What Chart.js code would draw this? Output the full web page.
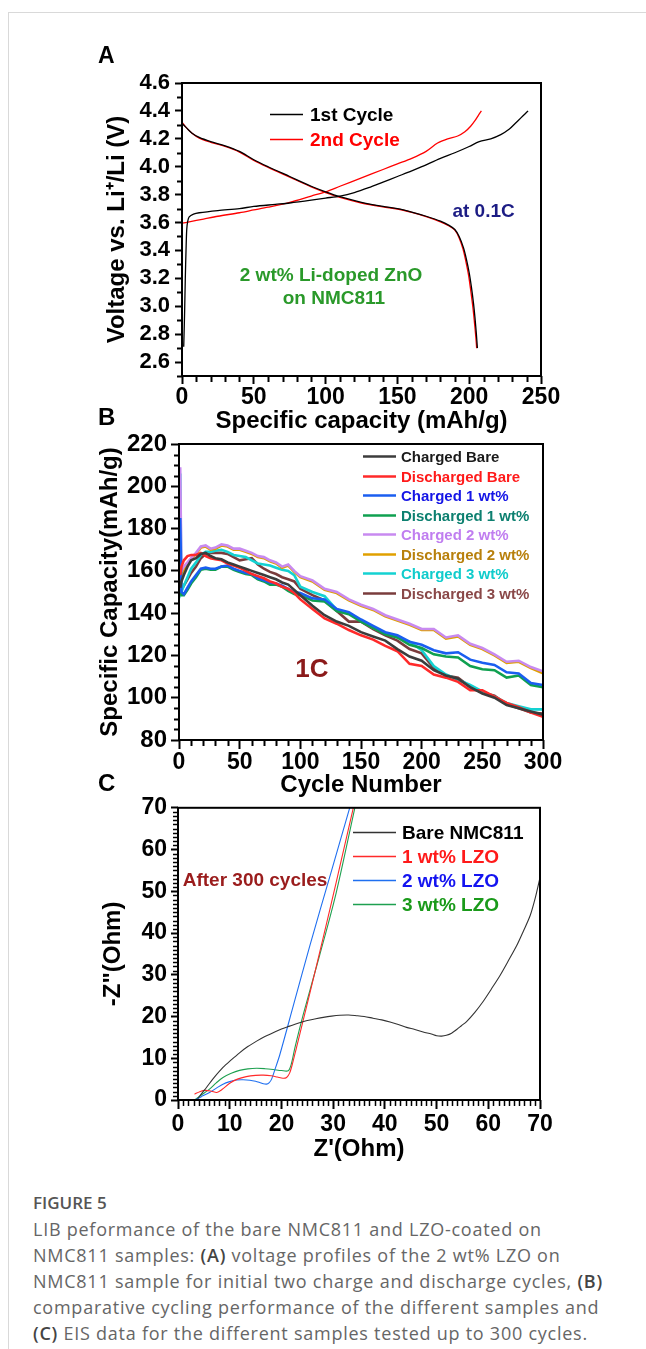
<!DOCTYPE html>
<html><head><meta charset="utf-8">
<script src="https://cdn.jsdelivr.net/npm/chart.js@4.4.1/dist/chart.umd.min.js"></script>
<style>
html,body{margin:0;padding:0;background:#fff;}
body{width:646px;height:1349px;position:relative;overflow:hidden;}
.frameTop{position:absolute;left:8px;top:12px;right:0;height:1px;background:#d9d9d9;}
.frameLeft{position:absolute;left:8px;top:12px;width:1px;bottom:0;background:#d9d9d9;}
canvas{position:absolute;left:0;}
.plet{position:absolute;left:98px;font:bold 23px "Liberation Sans",Arial,sans-serif;line-height:23px;color:#000;}
.cap{position:absolute;left:33px;top:1189px;width:612px;font-family:"Open Sans",sans-serif;font-size:18px;line-height:26px;color:#666;white-space:nowrap;letter-spacing:0.75px;}
.cap b{font-weight:600;color:#444;}
.cap .fig{font-weight:600;color:#555;font-size:17px;letter-spacing:0;}
</style></head>
<body>
<div class="frameTop"></div><div class="frameLeft"></div>
<canvas id="cA" width="646" height="400" style="top:40px"></canvas>
<canvas id="cB" width="646" height="400" style="top:420px"></canvas>
<canvas id="cC" width="646" height="380" style="top:790px"></canvas>
<div class="plet" style="top:44px">A</div>
<div class="plet" style="top:405px;font-size:24px">B</div>
<div class="plet" style="top:771px;font-size:24px">C</div>
<div class="cap"><span class="fig">FIGURE 5</span><br>LIB peformance of the bare NMC811 and LZO-coated on<br>NMC811 samples: <b>(A)</b> voltage profiles of the 2 wt% LZO on<br>NMC811 sample for initial two charge and discharge cycles, <b>(B)</b><br>comparative cycling performance of the different samples and<br><b>(C)</b> EIS data for the different samples tested up to 300 cycles.</div>
<script>
// ---------- Panel A data ----------
const aXTicks = [0, 50, 100, 150, 200, 250];
const aYTicks = [2.6, 2.8, 3.0, 3.2, 3.4, 3.6, 3.8, 4.0, 4.2, 4.4, 4.6];
const aCharge1X = [1.2, 1.8, 2.3, 2.8, 3.3, 4.0, 5, 8, 12, 25, 40, 50, 65, 75, 90, 100, 110, 120, 130, 140, 150, 160, 167, 180, 190, 200, 207, 215, 222, 228, 232, 236, 239, 241];
const aCharge1Y = [2.71, 2.95, 3.2, 3.4, 3.55, 3.61, 3.64, 3.66, 3.67, 3.686, 3.70, 3.715, 3.73, 3.74, 3.76, 3.775, 3.79, 3.815, 3.85, 3.89, 3.93, 3.97, 4.0, 4.06, 4.10, 4.145, 4.18, 4.20, 4.23, 4.27, 4.31, 4.35, 4.38, 4.40];
const aDis1X = [0, 3, 7, 12, 20, 30, 40, 50, 60, 75, 90, 100, 110, 125, 140, 150, 160, 170, 180, 186, 190, 193, 196, 198, 200, 201.5, 203, 204, 205, 205.7];
const aDis1Y = [4.31, 4.28, 4.24, 4.21, 4.18, 4.15, 4.11, 4.05, 4.00, 3.93, 3.86, 3.82, 3.785, 3.745, 3.715, 3.70, 3.675, 3.645, 3.61, 3.58, 3.55, 3.50, 3.42, 3.34, 3.24, 3.14, 3.02, 2.92, 2.80, 2.70];
const aCharge2X = [0, 5, 15, 25, 40, 50, 60, 75, 90, 100, 110, 125, 140, 150, 160, 170, 178, 185, 192, 197, 201, 204, 206.5, 208.5];
const aCharge2Y = [3.595, 3.605, 3.625, 3.645, 3.67, 3.69, 3.71, 3.745, 3.79, 3.82, 3.86, 3.92, 3.98, 4.02, 4.06, 4.11, 4.17, 4.20, 4.22, 4.25, 4.29, 4.33, 4.37, 4.40];
const aDis2X = [0, 3, 7, 12, 20, 30, 40, 50, 60, 75, 90, 100, 110, 125, 140, 150, 160, 170, 180, 186, 190, 193, 195.7, 197.7, 199.6, 201.1, 202.6, 203.6, 204.6, 205.2];
const aDis2Y = [4.32, 4.28, 4.24, 4.205, 4.175, 4.145, 4.105, 4.045, 3.995, 3.925, 3.855, 3.815, 3.78, 3.74, 3.712, 3.697, 3.672, 3.642, 3.605, 3.575, 3.545, 3.49, 3.41, 3.32, 3.22, 3.11, 2.99, 2.89, 2.78, 2.70];

// ---------- Panel B data ----------
const bXTicks = [0, 50, 100, 150, 200, 250, 300];
const bYTicks = [80, 100, 120, 140, 160, 180, 200, 220];
const bCycles = [1, 2, 4, 7, 10, 14, 18, 22, 26, 30, 35, 40, 45, 50, 55, 60, 65, 70, 75, 80, 85, 90, 95, 100, 110, 120, 130, 140, 150, 160, 170, 180, 190, 200, 210, 220, 230, 240, 250, 260, 270, 280, 290, 300];
const bChargedBare = [152, 155, 158, 162, 165, 166, 168, 168.5, 167, 166, 165.5, 164, 163, 162, 161, 160, 159, 158, 157, 156, 154.5, 153.5, 151, 148.5, 143.5, 139, 136, 134, 131, 129, 127, 123, 119.5, 117.5, 113, 110.5, 109, 105, 102, 100, 96.5, 95, 93.5, 92];
const bDischargedBare = [158, 162, 165, 167, 167.5, 167.5, 168.5, 167, 166, 165.5, 165, 163.5, 162.5, 161.5, 160, 158.5, 157.5, 156.5, 155, 154, 152.5, 151.5, 149.5, 146.5, 142, 137.5, 135, 132, 129.5, 127.5, 124.5, 122, 116, 115, 111, 109.5, 107.5, 103.5, 103.5, 100.5, 97.5, 95.5, 93, 91];
const bCharged1 = [185, 150, 149, 152, 155, 158, 161, 161.5, 161, 161, 162, 162.5, 161, 160, 159, 158.5, 156.5, 155.5, 154.5, 154, 153, 151.5, 150, 149.5, 147, 146.5, 142, 140.5, 137, 134, 131, 129.5, 126.5, 125, 122.5, 121, 121.5, 118, 116.5, 115.5, 112, 111.5, 107, 106];
const bDischarged1 = [150, 148.5, 148.5, 151, 154, 157, 160.5, 161, 160.5, 160.5, 162, 162, 160.5, 159.5, 158.5, 158, 156, 155, 153.5, 153.5, 152.5, 150.5, 149, 148.5, 146, 145.5, 141, 139.5, 136, 133, 130, 128.5, 125, 123.5, 120.5, 119.5, 119, 115, 113.5, 113, 109.5, 110.5, 106, 105];
const bCharged2 = [209, 160, 162, 164, 166, 168.5, 171.5, 172, 170.5, 171, 172.5, 172, 170.5, 170.5, 169.5, 168.5, 167, 166.5, 165, 164, 162, 163, 160, 157.5, 155.5, 151.5, 150, 146.5, 144, 142, 139, 137, 135, 132.5, 132.5, 128.5, 129.5, 125.5, 123.5, 120.5, 117, 117.5, 114.5, 112.5];
const bDischarged2 = [155, 157, 160, 163, 165.5, 168, 171, 171.5, 170, 170.5, 172, 171.5, 170, 170, 169, 168, 166.5, 166, 164.5, 163.5, 161.5, 162.5, 159.5, 157, 155, 151, 149.5, 146, 143.5, 141.5, 138.5, 136.5, 134.5, 132, 132, 128, 129, 125, 123, 120, 116.5, 117, 114, 111.5];
const bCharged3 = [206, 150, 153, 157, 161, 164, 167.5, 169, 169, 169.5, 170, 169, 167.5, 167, 166.5, 165, 163.5, 163, 162.5, 161.5, 160.5, 160, 158, 152.5, 150, 148, 141.5, 140, 136.5, 133, 130.5, 128.5, 126.5, 122.5, 115, 111, 108.5, 106, 103, 100.5, 97.5, 96, 94.5, 94.5];
const bDischarged3 = [150, 151, 153, 156, 159, 162, 166, 168, 168.5, 168.5, 168.5, 168, 166.5, 165, 165.5, 166, 163, 161, 159.5, 158.5, 157, 156, 155, 151.5, 148.5, 146, 141, 136, 136, 132.5, 129.5, 127, 123, 121, 114, 110.5, 109.5, 105, 102.5, 101, 97, 95, 93, 92.5];

// ---------- Panel C data ----------
const cXTicks = [0, 10, 20, 30, 40, 50, 60, 70];
const cYTicks = [0, 10, 20, 30, 40, 50, 60, 70];
const cBareX = [3.8, 4.6, 5.5, 7, 8.7, 10.3, 11.9, 13.5, 15.2, 16.8, 18.4, 20, 21.6, 23.2, 24.8, 26.4, 28.1, 29.7, 31.3, 33, 34.5, 36, 37.7, 39.4, 41, 42.6, 44.2, 45.8, 47.4, 49, 50, 51, 51.9, 52.9, 53.9, 54.8, 55.8, 57.4, 59, 60.6, 62.3, 63.9, 65.5, 66.8, 68.1, 69.1, 70];
const cBareY = [0.3, 1.6, 3.0, 5.4, 7.8, 9.6, 11.3, 12.8, 14.1, 15.2, 16.1, 17.0, 17.7, 18.4, 19.0, 19.4, 19.8, 20.1, 20.3, 20.35, 20.2, 20.0, 19.6, 19.2, 18.7, 18.1, 17.4, 16.9, 16.3, 15.8, 15.4, 15.3, 15.5, 16.0, 16.9, 17.8, 18.8, 21.0, 23.6, 26.6, 29.9, 33.4, 37.0, 40.5, 44.2, 48.5, 53.3];
const c1wtX = [3.2, 4.2, 5.3, 6.5, 7.5, 8.5, 10, 11.5, 13.2, 15, 16.5, 18, 19.2, 20.3, 21.0, 21.6, 22.2, 22.9, 25.5, 28.1, 30.6, 33.9];
const c1wtY = [1.4, 2.0, 2.3, 2.1, 1.8, 2.5, 4.0, 5.0, 5.6, 5.9, 5.95, 5.8, 5.5, 5.2, 5.4, 6.5, 9.0, 12.5, 25.6, 39.0, 52.2, 70];
const c2wtX = [3.5, 4.5, 6.1, 7.5, 8.7, 10, 11.3, 12.6, 13.9, 15, 15.8, 16.5, 17.1, 17.6, 18.1, 18.8, 19.7, 22.3, 25.5, 29.4, 33.2];
const c2wtY = [0.2, 0.8, 1.8, 2.9, 3.8, 4.4, 4.8, 4.85, 4.75, 4.5, 4.2, 3.9, 3.8, 4.1, 5.0, 7.5, 10.9, 22.6, 37.0, 53.7, 70];
const c3wtX = [3.4, 4.5, 6.1, 7.4, 8.7, 10.3, 11.9, 13.5, 15.2, 16.8, 18.4, 20, 21.3, 21.9, 22.6, 24.2, 27.4, 30.6, 34.2];
const c3wtY = [0.2, 1.2, 2.6, 4.1, 5.4, 6.4, 7.1, 7.45, 7.6, 7.5, 7.3, 7.05, 7.0, 8.6, 12.5, 20.4, 34.7, 49.7, 70];

// ---------- helpers ----------
const FAM = "'Liberation Sans', Arial, sans-serif";
const pts = (xs, ys) => xs.map((x, i) => ({x: x, y: ys[i]}));
const near = (a, b) => Math.abs(a - b) < 1e-6;

const framePlugin = {
  id: 'frame',
  afterDraw(chart, args, o) {
    const ctx = chart.ctx, ca = chart.chartArea;
    ctx.save();
    ctx.strokeStyle = '#000';
    ctx.lineWidth = o.minorWidth;
    const xs = chart.scales.x, ys = chart.scales.y;
    const nx = Math.round((xs.max - xs.min) / o.xMinor);
    for (let i = 0; i <= nx; i++) {
      const v = xs.min + i * o.xMinor;
      if (o.xMajor.some(m => near(m, v))) continue;
      const p = Math.round(xs.getPixelForValue(v)) + 0.5;
      ctx.beginPath(); ctx.moveTo(p, ca.bottom); ctx.lineTo(p, ca.bottom + o.xMinorLen); ctx.stroke();
    }
    const ny = Math.round((ys.max - ys.min) / o.yMinor);
    for (let i = 0; i <= ny; i++) {
      const v = ys.min + i * o.yMinor;
      if (o.yMajor.some(m => near(m, v))) continue;
      const p = Math.round(ys.getPixelForValue(v)) + 0.5;
      ctx.beginPath(); ctx.moveTo(ca.left, p); ctx.lineTo(ca.left - o.yMinorLen, p); ctx.stroke();
    }
    ctx.lineWidth = o.width;
    ctx.strokeRect(ca.left, ca.top, ca.right - ca.left, ca.bottom - ca.top);
    ctx.restore();
  }
};

const legendPlugin = {
  id: 'inLegend',
  afterDraw(chart, args, o) {
    const ctx = chart.ctx, ca = chart.chartArea;
    ctx.save();
    ctx.font = o.font;
    ctx.textBaseline = 'middle';
    ctx.textAlign = 'left';
    o.items.forEach((it, i) => {
      const ds = chart.data.datasets[it.ds];
      const y = Math.round(ca.top + o.y + i * o.row) + 0.5;
      const x0 = ca.left + o.x;
      ctx.strokeStyle = ds.borderColor;
      ctx.lineWidth = o.lw;
      ctx.beginPath(); ctx.moveTo(x0, y); ctx.lineTo(x0 + o.len, y); ctx.stroke();
      ctx.fillStyle = it.color;
      ctx.fillText(ds.label, x0 + o.len + o.gap, y + 1);
    });
    ctx.restore();
  }
};

const notePlugin = {
  id: 'notes',
  afterDraw(chart, args, o) {
    const ctx = chart.ctx;
    ctx.save();
    ctx.textAlign = 'center';
    ctx.textBaseline = 'middle';
    o.items.forEach(n => {
      ctx.font = n.font;
      ctx.fillStyle = n.color;
      ctx.fillText(n.text, chart.scales.x.getPixelForValue(n.x), chart.scales.y.getPixelForValue(n.y));
    });
    ctx.restore();
  }
};

function axis(cfg) {
  return {
    type: 'linear',
    min: cfg.min, max: cfg.max,
    afterBuildTicks: s => { s.ticks = cfg.ticks.map(v => ({value: v})); },
    afterFit: s => { if (cfg.w) s.width = cfg.w; if (cfg.h) s.height = cfg.h; },
    border: {display: false},
    grid: {display: true, drawOnChartArea: false, drawTicks: true, tickLength: cfg.tl, tickColor: '#000', tickWidth: 2},
    ticks: {
      autoSkip: false, maxRotation: 0, padding: cfg.tp, color: '#000',
      font: {family: FAM, size: cfg.fs, weight: 'bold'},
      callback: v => cfg.fmt ? cfg.fmt(v) : String(v)
    },
    title: {display: true, text: cfg.title, color: '#000', padding: cfg.titlePad,
      font: {family: FAM, size: cfg.tfs, weight: 'bold'}}
  };
}

function mkChart(id, datasets, opts) {
  return new Chart(document.getElementById(id), {
    type: 'line',
    data: {datasets: datasets},
    plugins: [framePlugin, legendPlugin, notePlugin],
    options: {
      responsive: false, animation: false, devicePixelRatio: 1,
      layout: {padding: opts.pad},
      elements: {point: {radius: 0}, line: {tension: opts.tension}},
      scales: {x: axis(opts.x), y: axis(opts.y)},
      plugins: {
        legend: {display: false}, tooltip: {enabled: false},
        frame: opts.frame, inLegend: opts.legend, notes: opts.notes
      }
    }
  });
}

// ---------- Chart A ----------
mkChart('cA', [
  {label: '1st Cycle', data: pts(aCharge1X, aCharge1Y), borderColor: '#000', borderWidth: 1.3},
  {label: '1st Cycle discharge', data: pts(aDis1X, aDis1Y), borderColor: '#000', borderWidth: 1.3},
  {label: '2nd Cycle', data: pts(aCharge2X, aCharge2Y), borderColor: '#ff0000', borderWidth: 1.3},
  {label: '2nd Cycle discharge', data: pts(aDis2X, aDis2Y), borderColor: '#ff0000', borderWidth: 1.3}
], {
  pad: {left: 100, right: 105, top: 43, bottom: 4},
  tension: 0.3,
  x: {min: 0, max: 250, ticks: aXTicks, h: 60, tl: 8, tp: 0, fs: 23, title: 'Specific capacity (mAh/g)', tfs: 24, titlePad: {top: 0, bottom: 0}},
  y: {min: 2.5, max: 4.6, ticks: aYTicks, w: 82, tl: 7, tp: 5, fs: 22, title: 'Voltage vs. Li\u207A/Li (V)', tfs: 24, titlePad: {top: 3, bottom: 0}, fmt: v => v.toFixed(1)},
  frame: {width: 2, minorWidth: 2, xMinor: 10, xMajor: aXTicks, xMinorLen: 6, yMinor: 0.1, yMajor: aYTicks, yMinorLen: 5},
  legend: {x: 88, y: 31, row: 25, len: 33, gap: 7, lw: 1.3, font: 'bold 19px ' + FAM,
    items: [{ds: 0, color: '#000'}, {ds: 2, color: '#ff0000'}]},
  notes: {items: [
    {text: 'at 0.1C', x: 210, y: 3.675, color: '#1c1c84', font: 'bold 19px ' + FAM},
    {text: '2 wt% Li-doped ZnO', x: 103.8, y: 3.216, color: '#2a992a', font: 'bold 19px ' + FAM},
    {text: 'on NMC811', x: 105.8, y: 3.05, color: '#2a992a', font: 'bold 19px ' + FAM}
  ]}
});

// ---------- Chart B ----------
const bColors = ['#3c3c3c', '#ff2a2a', '#1a5ef0', '#0fa050', '#c88af0', '#e0a000', '#14d2d2', '#7a3c3c'];
const bTextColors = ['#1a1a1a', '#ff1a1a', '#1414e6', '#0d8070', '#c07ef0', '#b8800c', '#10cccc', '#8a4848'];
const bSeries = [bChargedBare, bDischargedBare, bCharged1, bDischarged1, bCharged2, bDischarged2, bCharged3, bDischarged3];
const bLabels = ['Charged Bare', 'Discharged Bare', 'Charged 1 wt%', 'Discharged 1 wt%', 'Charged 2 wt%', 'Discharged 2 wt%', 'Charged 3 wt%', 'Discharged 3 wt%'];
mkChart('cB', bSeries.map((s, i) => ({label: bLabels[i], data: pts(bCycles, s), borderColor: bColors[i], borderWidth: 2.6})), {
  pad: {left: 95, right: 103, top: 24, bottom: 20},
  tension: 0,
  x: {min: 0, max: 300, ticks: bXTicks, h: 60, tl: 9, tp: 0, fs: 23, title: 'Cycle Number', tfs: 24, titlePad: {top: 0, bottom: 0}},
  y: {min: 80, max: 220, ticks: bYTicks, w: 84, tl: 8, tp: 4, fs: 24, title: 'Specific Capacity(mAh/g)', tfs: 24, titlePad: {top: 1, bottom: 0}},
  frame: {width: 2, minorWidth: 2, xMinor: 10, xMajor: bXTicks, xMinorLen: 6, yMinor: 5, yMajor: bYTicks, yMinorLen: 5},
  legend: {x: 184, y: 12, row: 19.5, len: 33, gap: 5, lw: 2.6, font: 'bold 15px ' + FAM,
    items: bLabels.map((l, i) => ({ds: i, color: bTextColors[i]}))},
  notes: {items: [
    {text: '1C', x: 109.6, y: 113, color: '#8b1a1a', font: 'bold 26px ' + FAM}
  ]}
});

// ---------- Chart C ----------
mkChart('cC', [
  {label: 'Bare NMC811', data: pts(cBareX, cBareY), borderColor: '#333333', borderWidth: 1.1},
  {label: '1 wt% LZO', data: pts(c1wtX, c1wtY), borderColor: '#ff2a2a', borderWidth: 1.1},
  {label: '2 wt% LZO', data: pts(c2wtX, c2wtY), borderColor: '#1f6ff0', borderWidth: 1.1},
  {label: '3 wt% LZO', data: pts(c3wtX, c3wtY), borderColor: '#1ea050', borderWidth: 1.1}
], {
  pad: {left: 95, right: 106, top: 14, bottom: 6},
  tension: 0.3,
  x: {min: 0, max: 70, ticks: cXTicks, h: 64, tl: 9, tp: 2, fs: 23, title: "Z'(Ohm)", tfs: 24, titlePad: {top: 0, bottom: 0}},
  y: {min: 0, max: 70, ticks: cYTicks, w: 83, tl: 7, tp: 4, fs: 23, title: '-Z"(Ohm)', tfs: 24, titlePad: {top: 4, bottom: 0}},
  frame: {width: 2, minorWidth: 1.5, xMinor: 1, xMajor: cXTicks, xMinorLen: 6, yMinor: 1, yMajor: cYTicks, yMinorLen: 5},
  legend: {x: 175, y: 24, row: 24, len: 43, gap: 6, lw: 1.4, font: 'bold 19px ' + FAM,
    items: [{ds: 0, color: '#000'}, {ds: 1, color: '#ff1a1a'}, {ds: 2, color: '#1414f0'}, {ds: 3, color: '#1a9a1a'}]},
  notes: {items: [
    {text: 'After 300 cycles', x: 14.9, y: 52.5, color: '#9a1c1c', font: 'bold 19px ' + FAM}
  ]}
});
</script>
</body></html>
